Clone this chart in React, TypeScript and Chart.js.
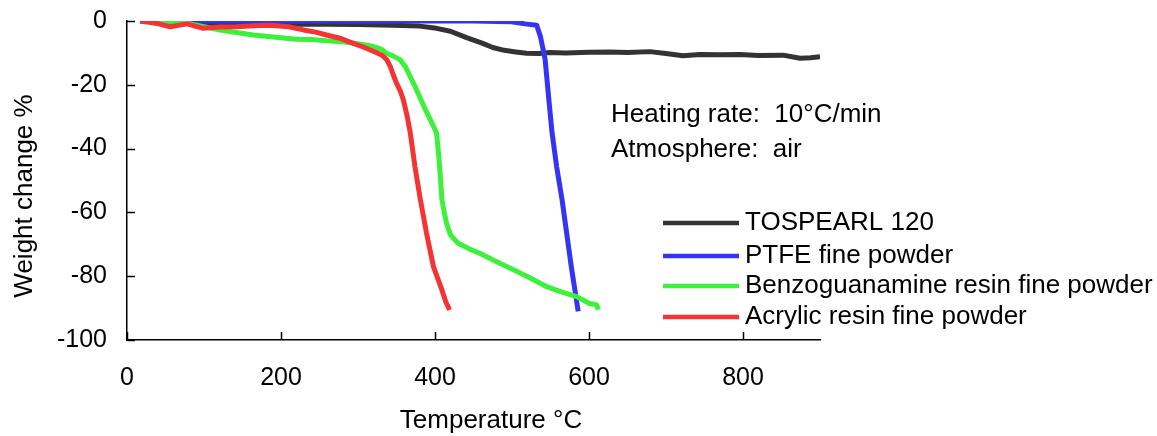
import React, { useEffect, useRef } from "react";
import { Chart, registerables } from "chart.js";

Chart.register(...registerables);

const FONT = '"Liberation Sans", Arial, sans-serif';

// Axis settings
const xMin = 0;
const xMax = 900;
const xStep = 200;
const yMin = -100;
const yMax = 0;
const yStep = 20;

const xTitle = "Temperature °C";
const yTitle = "Weight change %";
const notes = ["Heating rate:  10°C/min", "Atmosphere:  air"];

const seriesLabels = [
  "TOSPEARL 120",
  "PTFE fine powder",
  "Benzoguanamine resin fine powder",
  "Acrylic resin fine powder",
];
const seriesColors = ["#333333", "#3434f4", "#3cf03c", "#f43434"];

// TOSPEARL 120
const tospearlT = [17, 60, 121, 200, 260, 300, 345, 380, 402, 420, 441, 462, 475, 490, 505, 519, 535, 549, 570, 600, 627, 650, 679, 700, 722, 744, 770, 796, 820, 852, 874, 888, 900];
const tospearlW = [0, -0.3, -0.8, -1.0, -1.0, -1.1, -1.3, -1.6, -2.3, -3.2, -5.2, -7.0, -8.3, -9.2, -9.7, -10.1, -10.2, -9.9, -10.0, -9.8, -9.7, -9.9, -9.6, -10.2, -10.9, -10.5, -10.6, -10.5, -10.8, -10.7, -11.7, -11.5, -11.2];

// PTFE fine powder
const ptfeT = [17, 100, 200, 300, 400, 450, 497, 517, 532, 537, 543, 548, 552, 558, 565, 571, 577, 584, 586];
const ptfeW = [0, 0, 0, 0, 0, 0, -0.2, -0.9, -1.3, -4.9, -12, -25, -35, -45.7, -56, -66.5, -77, -88, -91];

// Benzoguanamine resin fine powder
const benzoT = [17, 50, 78, 100, 121, 140, 164, 190, 220, 240, 259, 280, 294, 310, 320, 330, 337, 346, 355, 362, 368, 374, 380, 387, 394, 399, 402, 404, 406, 409, 412, 415, 420, 430, 445, 458, 480, 502, 525, 545, 565, 584, 600, 610, 612];
const benzoW = [0, -0.3, -0.7, -1.8, -2.8, -3.5, -4.4, -5.0, -5.7, -5.8, -6.2, -6.5, -7.0, -7.5, -8.0, -8.8, -10.1, -11.0, -12.2, -14.5, -17.5, -20.5, -23.7, -27.5, -31, -33.5, -35.2, -40, -45.7, -56, -60, -63.4, -67, -69.7, -71.5, -72.8, -75.5, -78, -80.7, -83.3, -85, -86.4, -88.5, -89, -90.5];

// Acrylic resin fine powder
const acrylT = [17, 40, 56, 78, 99, 120, 142, 165, 186, 210, 229, 245, 259, 278, 294, 305, 316, 325, 331, 337, 342, 346, 350, 355, 359, 364, 368, 374, 381, 389, 398, 404, 409, 414, 419];
const acrylW = [0, -0.8, -1.8, -0.9, -2.3, -1.9, -1.8, -1.5, -1.3, -1.8, -2.8, -3.5, -4.4, -5.5, -7, -8, -9.1, -10, -10.7, -12, -14.3, -17, -19.5, -22, -24.8, -30, -35.2, -45.7, -56, -66.5, -77, -81, -84.3, -88, -90.6];

const seriesT = [tospearlT, ptfeT, benzoT, acrylT];
const seriesW = [tospearlW, ptfeW, benzoW, acrylW];
const drawOrder = [3, 2, 1, 0];

const decorPlugin = {
  id: "decor",
  beforeDatasetsDraw(chart: any) {
    const { ctx, chartArea, scales } = chart;
    ctx.save();
    ctx.strokeStyle = "#000";
    ctx.lineWidth = 1.5;
    scales.x.ticks.forEach((t: any) => {
      const px = Math.round(scales.x.getPixelForValue(t.value)) + 0.5;
      ctx.beginPath();
      ctx.moveTo(px, chartArea.bottom);
      ctx.lineTo(px, chartArea.bottom - 8);
      ctx.stroke();
    });
    scales.y.ticks.forEach((t: any) => {
      const py = Math.round(scales.y.getPixelForValue(t.value)) + 0.5;
      ctx.beginPath();
      ctx.moveTo(chartArea.left, py);
      ctx.lineTo(chartArea.left + 8, py);
      ctx.stroke();
    });
    ctx.restore();
  },
  afterDraw(chart: any) {
    const { ctx } = chart;
    ctx.save();
    ctx.fillStyle = "#000";
    ctx.font = `26px ${FONT}`;
    ctx.textBaseline = "alphabetic";

    // x title
    ctx.textAlign = "center";
    ctx.fillText(xTitle, 491, 428);

    // y title
    ctx.save();
    ctx.translate(32, 196);
    ctx.rotate(-Math.PI / 2);
    ctx.fillText(yTitle, 0, 0);
    ctx.restore();

    // notes
    ctx.textAlign = "left";
    ctx.fillText(notes[0], 611, 122);
    ctx.fillText(notes[1], 611, 157);

    // legend
    const lineY = [223, 256, 286, 317];
    chart.data.datasets.forEach((ds: any, i: number) => {
      ctx.strokeStyle = ds.borderColor;
      ctx.lineWidth = 4.5;
      ctx.beginPath();
      ctx.moveTo(663, lineY[i]);
      ctx.lineTo(739, lineY[i]);
      ctx.stroke();
      ctx.fillText(ds.label, 745, lineY[i] + 7);
    });
    ctx.restore();
  },
};

export default function App() {
  const canvasRef = useRef<HTMLCanvasElement | null>(null);

  useEffect(() => {
    const canvas = canvasRef.current;
    if (!canvas) return;
    const datasets = seriesLabels.map((label, i) => ({
      label,
      data: seriesT[i].map((t, j) => ({ x: t, y: seriesW[i][j] })),
      borderColor: seriesColors[i],
      backgroundColor: seriesColors[i],
      borderWidth: 5,
      pointRadius: 0,
      tension: 0,
      fill: false,
      order: drawOrder[i],
      borderJoinStyle: "round" as const,
      borderCapStyle: "butt" as const,
    }));
    const chart = new Chart(canvas, {
      type: "line",
      data: { datasets },
      options: {
        responsive: false,
        animation: false,
        layout: { padding: { left: 0, top: 21, right: 337, bottom: 0 } },
        plugins: { legend: { display: false }, tooltip: { enabled: false } },
        scales: {
          x: {
            type: "linear",
            min: xMin,
            max: xMax,
            position: "bottom",
            grid: { display: false, drawTicks: false },
            border: { display: true, color: "#000", width: 1.5 },
            ticks: {
              stepSize: xStep,
              includeBounds: false,
              padding: 23,
              color: "#000",
              font: { family: FONT, size: 25 },
              maxRotation: 0,
            },
            afterFit: (s: any) => {
              s.height = 96;
              s.paddingLeft = 0;
              s.paddingRight = 0;
              s.paddingTop = 0;
              s.paddingBottom = 0;
            },
          },
          y: {
            type: "linear",
            min: yMin,
            max: yMax,
            grid: { display: false, drawTicks: false },
            border: { display: true, color: "#000", width: 1.5 },
            ticks: {
              stepSize: yStep,
              padding: 20,
              color: "#000",
              font: { family: FONT, size: 25 },
            },
            afterFit: (s: any) => {
              s.width = 127;
              s.paddingLeft = 0;
              s.paddingRight = 0;
              s.paddingTop = 0;
              s.paddingBottom = 0;
            },
          },
        },
      },
      plugins: [decorPlugin],
    });
    return () => chart.destroy();
  }, []);

  return (
    <div style={{ position: "absolute", left: 0, top: 0, width: 1157, height: 436, background: "#fff" }}>
      <canvas ref={canvasRef} width={1157} height={436} />
    </div>
  );
}
